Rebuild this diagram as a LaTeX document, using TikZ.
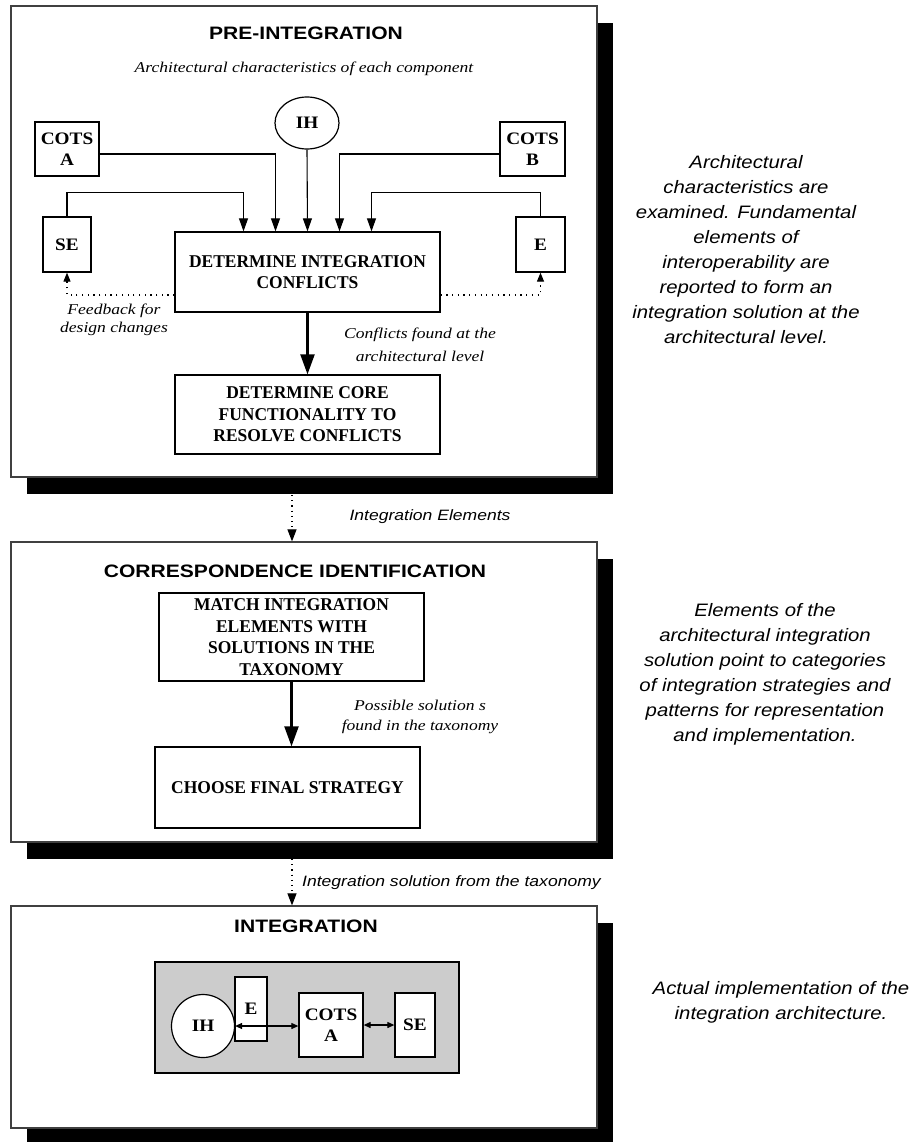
\documentclass[tikz,border=0pt]{standalone}
\usepackage{fontspec}
\setmainfont{Liberation Serif}
\newfontfamily\sansT{Liberation Sans}[FakeStretch=1.17]
\newfontfamily\sansR{Liberation Sans}[FakeStretch=1.13]
\newfontfamily\serifB{Liberation Serif}[FakeStretch=0.97]
\newfontfamily\serifL{Liberation Serif}[FakeStretch=1.1]
\newfontfamily\serifI{Liberation Serif}[FakeStretch=1.17]
\usetikzlibrary{arrows.meta,shadows,shapes.geometric,calc}
\begin{document}
\begin{tikzpicture}[x=1pt,y=-1pt,
 panel/.style={draw=black!75, line width=1.2pt, fill=white, inner sep=0pt,
   drop shadow={shadow xshift=16pt,shadow yshift=-17pt,fill=black,opacity=1}},
 box/.style={draw=black, line width=1.3pt, fill=white, inner sep=0pt, align=center,
   font=\fontsize{18}{21.5}\selectfont\serifB\bfseries},
 lbl/.style={draw=black, line width=1.3pt, fill=white, inner sep=0pt, align=center,
   font=\fontsize{17.5}{21.5}\selectfont\serifL\bfseries},
 ttl/.style={font=\fontsize{18}{22}\selectfont\sansT\bfseries, inner sep=0pt},
 note/.style={font=\fontsize{15}{20}\selectfont\serifI\itshape, align=center, inner sep=0pt},
 snote/.style={font=\fontsize{15}{18}\selectfont\sansT\itshape, inner sep=0pt},
 side/.style={font=\fontsize{18}{25}\selectfont\sansR\itshape, align=center, inner sep=0pt},
 arr/.style={line width=1.1pt, -{Triangle[length=13pt,width=9pt]}},
 bigarr/.style={line width=2.2pt, -{Triangle[length=20pt,width=14pt]}},
 fb/.style={line width=1.1pt, dash pattern=on 1.2pt off 4.5pt, -{Triangle[length=9pt,width=7pt]}},
 link/.style={line width=1.1pt, dash pattern=on 1.2pt off 4pt, -{Triangle[length=12pt,width=9pt]}},
 dbl/.style={line width=1.1pt, {Triangle[length=7pt,width=6pt]}-{Triangle[length=7pt,width=6pt]}},
]
\useasboundingbox[fill=white] (0,0) rectangle (914,1142);

% panels
\node[panel, minimum width=586pt, minimum height=471pt] (P1) at (304,241.5) {};
\node[panel, minimum width=586pt, minimum height=300pt] (P2) at (304,692) {};
\node[panel, minimum width=586pt, minimum height=222pt] (P3) at (304,1017) {};

% links between panels
\coordinate (l1) at (292,495);
\draw[link] (l1) -- (l1 |- P2.north);
\coordinate (l2) at (292,859);
\draw[link] (l2) -- (l2 |- P3.north);
\node[snote] (le1) at (430,517) {Integration Elements};
\node[snote, anchor=west] (le2) at (302,883) {Integration solution from the taxonomy};

% titles
\node[ttl, anchor=base] (t1) at (306,40) {PRE-INTEGRATION};
\node[ttl, anchor=base] (t2) at (295,577) {CORRESPONDENCE IDENTIFICATION};
\node[ttl, anchor=base] (t3) at (306,932) {INTEGRATION};

% ---- pre-integration
\node[note, anchor=base] (sub) at (304,73) {Architectural characteristics of each component};
\node[draw, ellipse, line width=1.2pt, fill=white, inner sep=0pt, minimum width=64pt, minimum height=52pt,
  font=\fontsize{17.5}{21}\selectfont\serifL\bfseries] (ih) at (307,123) {IH};
\node[lbl, minimum width=64pt, minimum height=54pt] (ca) at (67,149) {COTS\\A};
\node[lbl, minimum width=65pt, minimum height=54pt] (cb) at (532.5,149) {COTS\\B};
\node[lbl, minimum width=48pt, minimum height=55pt] (se) at (67,244.5) {SE};
\node[lbl, minimum width=49pt, minimum height=55pt] (e) at (540.5,244.5) {E};
\node[box, minimum width=265pt, minimum height=80pt] (det) at (307.5,272) {DETERMINE INTEGRATION\\CONFLICTS};
\node[box, minimum width=265pt, minimum height=79pt] (core) at (307.5,414.5) {DETERMINE CORE\\FUNCTIONALITY TO\\RESOLVE CONFLICTS};

\draw[arr] ([yshift=-5pt]ca.east) -| ([xshift=-32pt]det.north);
\draw[arr] (ih.south) -- (det.north);
\draw[arr] ([yshift=-5pt]cb.west) -| ([xshift=32pt]det.north);
\draw[arr] (se.north) -- ++(0,-24) -| ([xshift=-64pt]det.north);
\draw[arr] (e.north) -- ++(0,-24) -| ([xshift=64pt]det.north);
\draw[fb] ([yshift=-23pt]det.west) -| (se.south);
\draw[fb] ([yshift=-23pt]det.east) -| (e.south);
\draw[bigarr] (det.south) -- (core.north);
\node[note, font=\fontsize{15}{18}\selectfont\serifI\itshape] (fbn) at (114,320) {Feedback for\\design changes};
\node[note, font=\fontsize{15}{23}\selectfont\serifI\itshape] (cfn) at (420,344.5) {Conflicts found at the\\architectural level};

% ---- correspondence identification
\node[box, minimum width=265pt, minimum height=88pt] (match) at (291.5,637) {MATCH INTEGRATION\\ELEMENTS WITH\\SOLUTIONS IN THE\\TAXONOMY};
\node[box, minimum width=265pt, minimum height=81pt] (choose) at (287.5,787.5) {CHOOSE FINAL STRATEGY};
\draw[bigarr] (match.south) -- (match.south |- choose.north);
\node[note] (psn) at (420,717) {Possible solution s\\found in the taxonomy};

% ---- integration
\node[draw=black, line width=1.3pt, fill=black!20, minimum width=304pt, minimum height=111pt] (gray) at (307,1017.5) {};
\node[draw, ellipse, line width=1.2pt, fill=white, inner sep=0pt, minimum width=63pt, minimum height=63pt,
  font=\fontsize{17.5}{21}\selectfont\serifL\bfseries] (ih2) at (203,1026) {IH};
\node[lbl, minimum width=32pt, minimum height=64pt] (e2) at (251,1009) {E};
\node[lbl, minimum width=64pt, minimum height=64pt] (cots2) at (331,1025) {COTS\\A};
\node[lbl, minimum width=40pt, minimum height=64pt] (se2) at (415,1025) {SE};
\draw[dbl] (ih2.east) -- (ih2.east -| cots2.west);
\draw[dbl] (cots2.east) -- (se2.west);

% side texts
\node[side] (s1) at (746,249.5) {Architectural\\characteristics are\\examined. Fundamental\\elements of\\interoperability are\\reported to form an\\integration solution at the\\architectural level.};
\node[side] (s2) at (765,674.5) {Elements of the\\architectural integration\\solution point to categories\\of integration strategies and\\patterns for representation\\and implementation.};
\node[side] (s3) at (781,1002) {Actual implementation of the\\integration architecture.};
\end{tikzpicture}
\end{document}
